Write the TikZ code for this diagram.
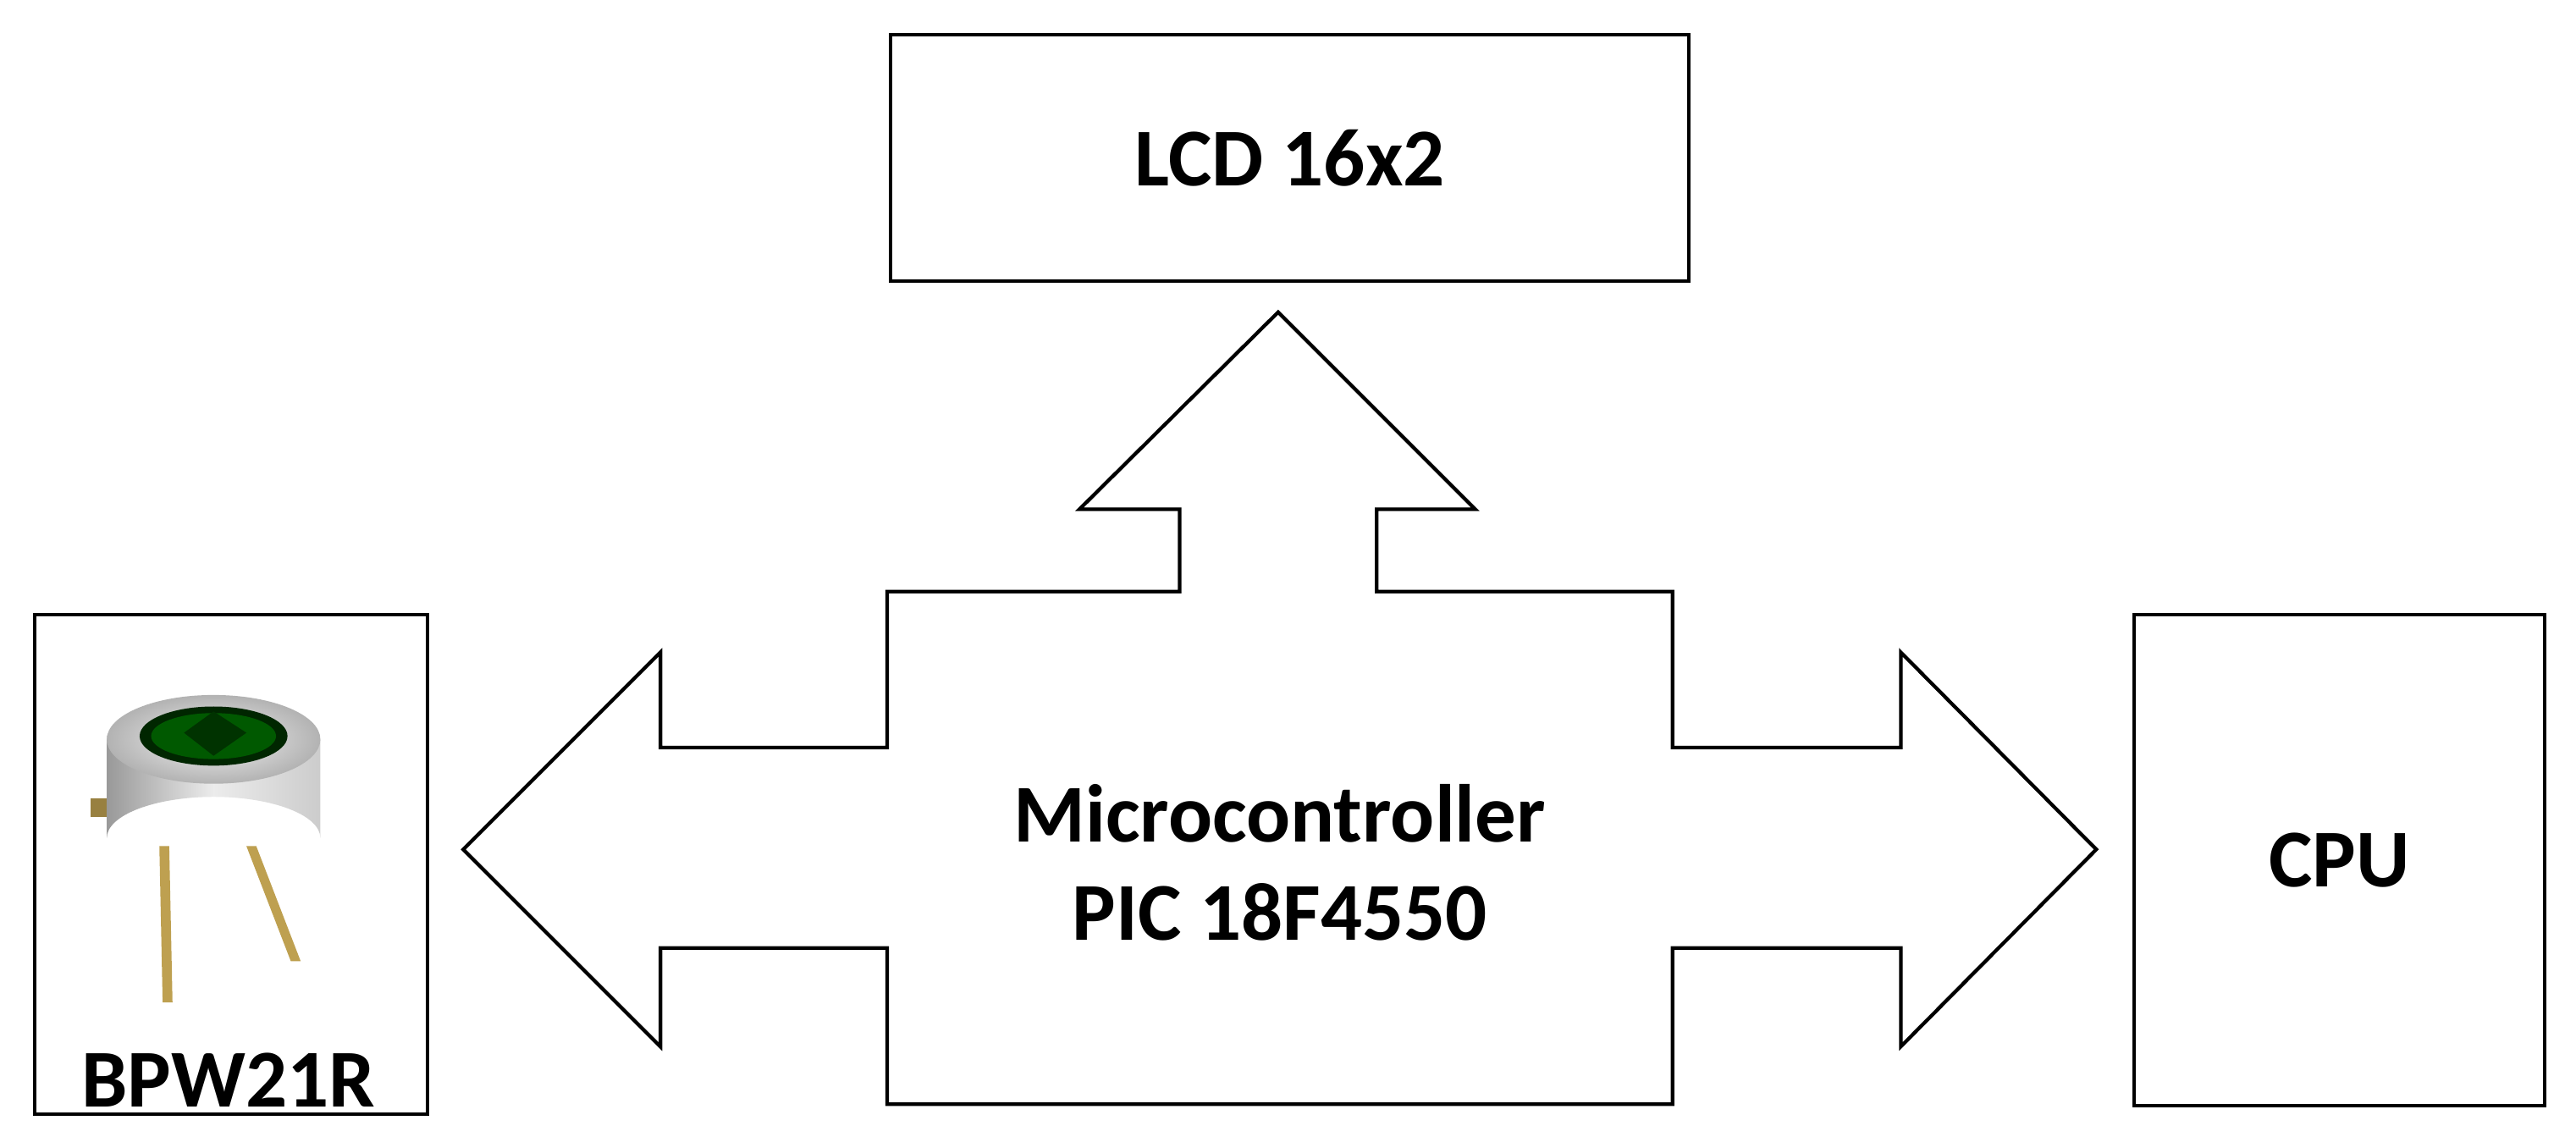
\documentclass[tikz,border=0pt]{standalone}
\usepackage{fontspec}
\setmainfont{Carlito}
\definecolor{gold}{RGB}{190,160,80}
\begin{document}
\begin{tikzpicture}[x=1pt,y=-1pt,
  box/.style={draw,line width=2.2pt},
  lbl/.style={font=\fontsize{50}{60}\selectfont\bfseries,align=center}]
\useasboundingbox (0,0) rectangle (1568,692);
\fill[white] (0,0) rectangle (1568,692);
\node[box,minimum width=486,minimum height=150,anchor=north west,lbl] (lcd) at (541,20) {LCD 16x2};
\node[box,minimum width=239,minimum height=304,anchor=north west] (bpw) at (20,373) {};
\node[lbl,anchor=south,inner sep=2pt] (bpwl) at (139,676) {BPW21R};
\node[box,minimum width=250,minimum height=299,anchor=north west,lbl] (cpu) at (1298,373) {CPU};
\draw[line width=2.2pt,line join=miter] (778,190) -- (898,310) -- (838,310) -- (838,360) -- (1018,360) -- (1018,455) -- (1157,455) -- (1157,397) -- (1276,517) -- (1157,637) -- (1157,577) -- (1018,577) -- (1018,672) -- (540,672) -- (540,577) -- (402,577) -- (402,637) -- (282,517) -- (402,397) -- (402,455) -- (540,455) -- (540,360) -- (718,360) -- (718,310) -- (657,310) -- cycle;
\node[lbl] (mc) at (779,525) {Microcontroller\\PIC 18F4550};
% photodiode sketch
\fill[gold] (97,515) -- (103,515) -- (105,610) -- (99,610) -- cycle;
\fill[gold] (150,515) -- (156,515) -- (183,585) -- (177,585) -- cycle;
\fill[gold!80!black] (55,486) rectangle (72,497);
\shade[left color=gray!80,right color=gray!40,middle color=gray!15] (65,450) -- (65,510) arc[start angle=180,end angle=360,x radius=65,y radius=25] -- (195,450) -- cycle;
\shade[inner color=gray!10,outer color=gray!60] (130,450) ellipse[x radius=65,y radius=27];
\fill[black!85!green] (130,448) ellipse[x radius=45,y radius=18];
\fill[green!35!black] (130,448) ellipse[x radius=38,y radius=14];
\fill[black!80!green] (112,446) -- (130,433) -- (150,446) -- (130,460) -- cycle;
\end{tikzpicture}
\end{document}
